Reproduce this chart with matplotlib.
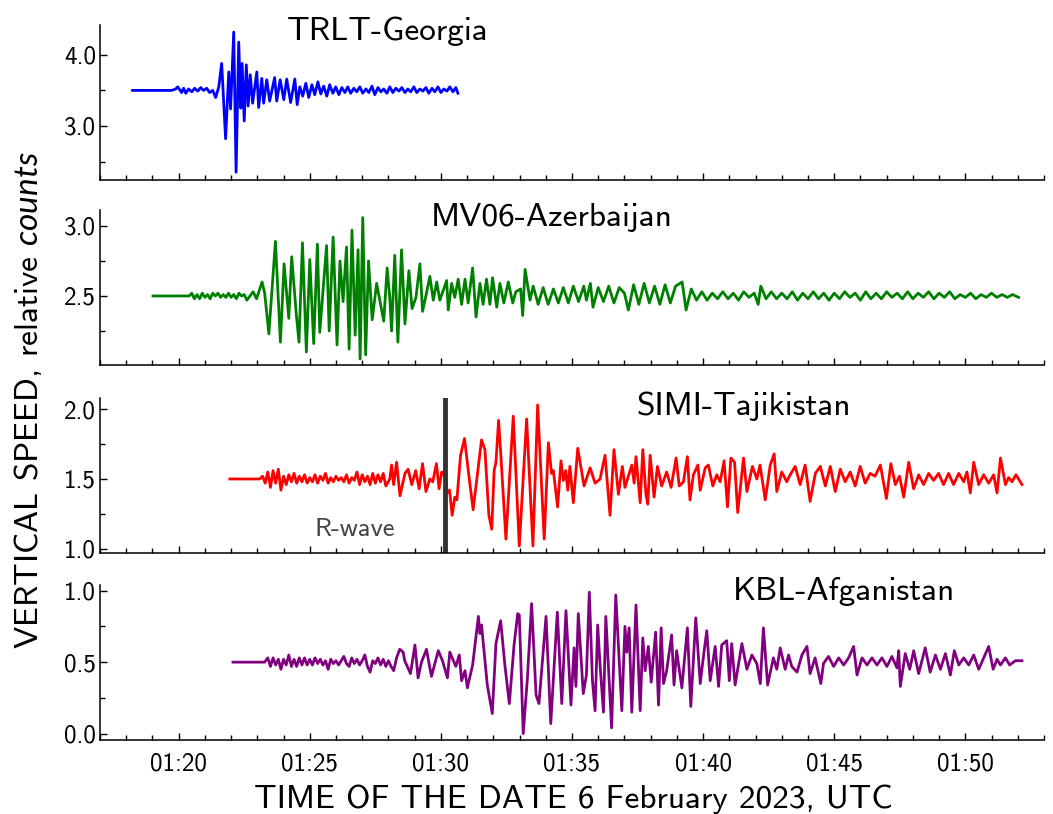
import matplotlib
matplotlib.use("Agg")
import matplotlib.pyplot as plt
from matplotlib.ticker import MultipleLocator, FixedLocator, FixedFormatter, FormatStrFormatter

plt.rcParams['font.family'] = 'cmss10'
plt.rcParams['axes.unicode_minus'] = False
plt.rcParams['mathtext.fontset'] = 'custom'
plt.rcParams['mathtext.rm'] = 'cmss10'
plt.rcParams['mathtext.it'] = 'Lato:italic'

# ---------------- data (time in minutes after 01:00 UTC) ----------------
geo_t = [18.24, 19.73, 19.89, 19.96, 20.04, 20.11, 20.19, 20.27, 20.38, 20.50,
         20.61, 20.73, 20.84, 20.95, 21.07, 21.18, 21.30, 21.41, 21.53, 21.64,
         21.79, 21.91, 21.98, 22.10, 22.19, 22.29, 22.37, 22.42, 22.50, 22.58,
         22.65, 22.73, 22.82, 22.98, 23.05, 23.17, 23.24, 23.36, 23.47, 23.66,
         23.74, 23.87, 24.01, 24.12, 24.27, 24.43, 24.52, 24.62,
         24.73, 24.85, 24.96, 25.08, 25.19, 25.31, 25.42, 25.53, 25.65, 25.76,
         25.88, 25.99, 26.11, 26.22, 26.34, 26.45, 26.56, 26.68, 26.79, 26.91,
         27.02, 27.14, 27.25, 27.37, 27.48, 27.60, 27.71, 27.82, 27.94, 28.05,
         28.17, 28.28, 28.40, 28.51, 28.63, 28.74, 28.85, 28.97, 29.08, 29.20,
         29.31, 29.43, 29.54, 29.66, 29.77, 29.89, 30.00, 30.11, 30.23, 30.34,
         30.46, 30.57, 30.65]
geo_v = [3.50, 3.50, 3.52, 3.55, 3.51, 3.47, 3.53, 3.46, 3.52, 3.48,
         3.53, 3.49, 3.54, 3.50, 3.53, 3.47, 3.50, 3.40, 3.55, 3.88,
         2.82, 3.76, 3.24, 4.32, 2.35, 4.18, 3.25, 3.88, 3.07, 3.86,
         3.28, 3.72, 3.32, 3.76, 3.26, 3.67, 3.32, 3.65, 3.35, 3.68,
         3.35, 3.65, 3.37, 3.66, 3.33, 3.66, 3.30, 3.55,
         3.42, 3.60, 3.40, 3.58, 3.44, 3.62, 3.45, 3.56, 3.42, 3.58,
         3.46, 3.55, 3.44, 3.54, 3.47, 3.55, 3.46, 3.53, 3.48, 3.55,
         3.46, 3.52, 3.47, 3.56, 3.44, 3.54, 3.48, 3.52, 3.46, 3.55,
         3.47, 3.53, 3.49, 3.54, 3.47, 3.52, 3.48, 3.55, 3.47, 3.52,
         3.49, 3.54, 3.46, 3.53, 3.48, 3.55, 3.47, 3.52, 3.49, 3.55,
         3.48, 3.54, 3.46]

aze_t = [19.02, 20.32, 20.4, 20.5, 20.6, 20.7, 20.8, 20.9, 21.0, 21.1,
         21.2, 21.3, 21.4, 21.5, 21.6, 21.7, 21.8, 21.9, 22.0, 22.1,
         22.2, 22.3, 22.4, 22.5, 22.6, 22.84, 22.97, 23.18, 23.28, 23.44,
         23.69, 23.88, 24.02, 24.08, 24.20, 24.31, 24.49, 24.59, 24.72, 24.87,
         25.00, 25.15, 25.29, 25.38, 25.64, 25.74, 25.89, 26.04, 26.15, 26.27,
         26.40, 26.50, 26.61, 26.73, 26.84, 26.92, 27.02, 27.13, 27.24, 27.38,
         27.55, 27.67, 27.82, 27.95, 28.05, 28.12, 28.24, 28.36, 28.50, 28.63,
         28.78, 28.90, 29.05, 29.20, 29.30, 29.45, 29.58, 29.71, 29.84, 29.96,
         30.22, 30.28, 30.41, 30.53, 30.66, 30.79, 30.92, 31.04, 31.21, 31.34,
         31.49, 31.61, 31.74, 31.87, 31.97, 32.13, 32.25, 32.40, 32.57, 32.74,
         32.86, 33.04, 33.12, 33.21, 33.40, 33.52, 33.71, 33.90, 34.09, 34.29,
         34.48, 34.67, 34.86, 35.05, 35.25, 35.45, 35.55, 35.70, 35.80, 36.00,
         36.20, 36.40, 36.60, 36.80, 37.00, 37.15, 37.35, 37.55, 37.75, 37.95,
         38.15, 38.35, 38.55, 38.75, 38.95, 39.20, 39.35, 39.55, 39.75, 39.95,
         40.15, 40.35, 40.55, 40.75, 40.95, 41.15, 41.35, 41.55, 41.75, 41.95,
         42.10, 42.20, 42.40, 42.60, 42.80, 43.00, 43.20, 43.40, 43.60, 43.80,
         44.00, 44.20, 44.40, 44.60, 44.80, 45.00, 45.20, 45.40, 45.60, 45.80,
         46.00, 46.20, 46.40, 46.60, 46.80, 47.00, 47.20, 47.40, 47.60, 47.80,
         48.00, 48.20, 48.40, 48.60, 48.80, 49.00, 49.20, 49.40, 49.60, 49.80,
         50.00, 50.20, 50.40, 50.60, 50.80, 51.00, 51.20, 51.40, 51.60, 51.80,
         52.03]
aze_v = [2.50, 2.50, 2.50, 2.52, 2.48, 2.51, 2.48, 2.52, 2.49, 2.51,
         2.48, 2.52, 2.50, 2.52, 2.49, 2.51, 2.49, 2.52, 2.49, 2.51,
         2.48, 2.52, 2.50, 2.51, 2.47, 2.53, 2.48, 2.60, 2.52, 2.23,
         2.89, 2.17, 2.73, 2.60, 2.34, 2.78, 2.36, 2.17, 2.88, 2.10,
         2.76, 2.16, 2.87, 2.24, 2.86, 2.25, 2.92, 2.15, 2.75, 2.46,
         2.85, 2.12, 2.97, 2.22, 2.83, 2.05, 3.06, 2.08, 2.75, 2.33,
         2.59, 2.47, 2.32, 2.70, 2.49, 2.25, 2.79, 2.17, 2.83, 2.30,
         2.68, 2.41, 2.49, 2.73, 2.39, 2.52, 2.64, 2.47, 2.60, 2.47,
         2.61, 2.40, 2.59, 2.49, 2.62, 2.44, 2.62, 2.45, 2.70, 2.35,
         2.59, 2.44, 2.62, 2.44, 2.63, 2.42, 2.59, 2.45, 2.60, 2.45,
         2.53, 2.55, 2.36, 2.69, 2.47, 2.57, 2.44, 2.56, 2.44, 2.55,
         2.45, 2.56, 2.45, 2.57, 2.46, 2.57, 2.47, 2.59, 2.42, 2.56,
         2.46, 2.57, 2.45, 2.56, 2.52, 2.40, 2.58, 2.44, 2.59, 2.45,
         2.57, 2.44, 2.58, 2.45, 2.57, 2.60, 2.40, 2.55, 2.47, 2.53,
         2.47, 2.52, 2.48, 2.53, 2.48, 2.52, 2.47, 2.53, 2.49, 2.52,
         2.44, 2.57, 2.48, 2.53, 2.48, 2.52, 2.48, 2.53, 2.47, 2.52,
         2.48, 2.53, 2.48, 2.52, 2.47, 2.52, 2.48, 2.53, 2.49, 2.52,
         2.47, 2.53, 2.48, 2.52, 2.48, 2.53, 2.49, 2.52, 2.48, 2.53,
         2.48, 2.52, 2.49, 2.53, 2.48, 2.52, 2.49, 2.53, 2.48, 2.51,
         2.49, 2.52, 2.48, 2.51, 2.49, 2.52, 2.49, 2.51, 2.49, 2.51,
         2.49]

taj_t = [21.95, 23.09, 23.2, 23.3, 23.4, 23.5, 23.6, 23.7, 23.8, 23.9,
         24.0, 24.1, 24.2, 24.3, 24.4, 24.5, 24.6, 24.7, 24.8, 24.9,
         25.0, 25.1, 25.2, 25.3, 25.4, 25.5, 25.6, 25.7, 25.8, 25.9,
         26.0, 26.1, 26.2, 26.3, 26.4, 26.5, 26.6, 26.7, 26.8, 26.9,
         27.0, 27.1, 27.2, 27.3, 27.4, 27.5, 27.6, 27.7, 27.8, 27.9,
         28.05, 28.12, 28.20, 28.31, 28.44, 28.63, 28.75, 28.89, 29.04, 29.17,
         29.30, 29.43, 29.58, 29.69, 29.83, 29.93, 30.03, 30.10, 30.16, 30.24,
         30.33, 30.43, 30.53, 30.61, 30.75, 30.90, 31.07, 31.23, 31.55, 31.68,
         31.83, 31.94, 32.03, 32.10, 32.20, 32.29, 32.48, 32.76, 32.99, 33.27,
         33.51, 33.69, 33.94, 34.10, 34.22, 34.29, 34.45, 34.58, 34.67, 34.76,
         34.84, 34.92, 35.05, 35.22, 35.46, 35.69, 35.88, 36.07, 36.26, 36.45,
         36.60, 36.77, 36.92, 37.02, 37.15, 37.28, 37.37, 37.44, 37.60, 37.70,
         37.82, 37.89, 37.98, 38.13, 38.26, 38.42, 38.61, 38.78, 38.97, 39.09,
         39.25, 39.40, 39.50, 39.63, 39.80, 39.89, 40.08, 40.20, 40.37, 40.52,
         40.65, 40.80, 40.93, 41.06, 41.20, 41.32, 41.54, 41.67, 41.88, 42.05,
         42.17, 42.37, 42.56, 42.71, 42.81, 43.00, 43.19, 43.32, 43.51, 43.70,
         43.89, 44.08, 44.28, 44.47, 44.66, 44.85, 45.04, 45.23, 45.42, 45.61,
         45.80, 45.99, 46.18, 46.37, 46.56, 46.76, 46.99, 47.16, 47.33, 47.49,
         47.65, 47.84, 48.03, 48.22, 48.41, 48.60, 48.79, 48.98, 49.17, 49.36,
         49.55, 49.75, 49.94, 50.06, 50.19, 50.32, 50.51, 50.70, 50.89, 51.08,
         51.21, 51.34, 51.53, 51.65, 51.78, 51.93, 52.16]
taj_v = [1.50, 1.50, 1.52, 1.47, 1.55, 1.44, 1.56, 1.47, 1.57, 1.42,
         1.52, 1.46, 1.53, 1.48, 1.54, 1.47, 1.52, 1.48, 1.53, 1.47,
         1.51, 1.48, 1.53, 1.47, 1.52, 1.49, 1.54, 1.47, 1.51, 1.48,
         1.52, 1.49, 1.51, 1.48, 1.53, 1.47, 1.51, 1.49, 1.55, 1.46,
         1.53, 1.48, 1.52, 1.46, 1.54, 1.47, 1.53, 1.48, 1.54, 1.45,
         1.50, 1.60, 1.46, 1.62, 1.38, 1.54, 1.57, 1.46, 1.56, 1.43,
         1.61, 1.41, 1.50, 1.48, 1.61, 1.43, 1.55, 1.53, 1.58, 1.40,
         1.42, 1.24, 1.37, 1.35, 1.67, 1.79, 1.52, 1.28, 1.78, 1.71,
         1.24, 1.14, 1.56, 1.62, 1.92, 1.66, 1.07, 1.95, 1.02, 1.93,
         1.02, 2.03, 1.07, 1.76, 1.54, 1.56, 1.30, 1.63, 1.49, 1.56,
         1.42, 1.59, 1.33, 1.72, 1.45, 1.58, 1.47, 1.50, 1.67, 1.24,
         1.71, 1.39, 1.59, 1.44, 1.52, 1.60, 1.47, 1.66, 1.33, 1.71,
         1.39, 1.32, 1.67, 1.37, 1.59, 1.45, 1.55, 1.44, 1.65, 1.45,
         1.48, 1.66, 1.35, 1.53, 1.60, 1.42, 1.58, 1.60, 1.45, 1.53,
         1.48, 1.63, 1.30, 1.65, 1.62, 1.26, 1.65, 1.41, 1.59, 1.50,
         1.60, 1.35, 1.60, 1.68, 1.41, 1.55, 1.48, 1.53, 1.59, 1.46,
         1.60, 1.34, 1.54, 1.59, 1.45, 1.59, 1.41, 1.57, 1.48, 1.55,
         1.45, 1.59, 1.47, 1.54, 1.52, 1.60, 1.36, 1.61, 1.46, 1.52,
         1.37, 1.62, 1.43, 1.53, 1.46, 1.54, 1.49, 1.54, 1.46, 1.54,
         1.46, 1.54, 1.48, 1.55, 1.40, 1.62, 1.46, 1.53, 1.47, 1.53,
         1.40, 1.65, 1.46, 1.51, 1.48, 1.53, 1.46]

afg_t = [22.07, 23.28, 23.4, 23.5, 23.6, 23.7, 23.8, 23.9, 24.0, 24.1,
         24.2, 24.3, 24.4, 24.5, 24.6, 24.7, 24.8, 24.9, 25.0, 25.1,
         25.2, 25.3, 25.4, 25.5, 25.6, 25.7, 25.8, 25.9, 26.0, 26.1,
         26.2, 26.3, 26.4, 26.5, 26.6, 26.7, 26.8, 26.9, 27.0, 27.1,
         27.2, 27.3, 27.4, 27.5, 27.6, 27.7, 27.8, 27.9, 28.0, 28.1,
         28.2, 28.31, 28.43, 28.56, 28.62, 28.84, 29.01, 29.13, 29.26, 29.45,
         29.64, 29.90, 30.06, 30.25, 30.34, 30.57, 30.70, 30.79, 30.92, 31.01,
         31.21, 31.43, 31.49, 31.55, 31.77, 31.96, 32.10, 32.28, 32.44, 32.61,
         32.79, 32.93, 32.99, 33.14, 33.30, 33.46, 33.63, 33.74, 34.01, 34.19,
         34.44, 34.61, 34.77, 34.96, 35.08, 35.15, 35.24, 35.43, 35.55, 35.66,
         35.78, 35.88, 35.98, 36.07, 36.20, 36.29, 36.51, 36.67, 36.90, 37.02,
         37.09, 37.18, 37.28, 37.44, 37.60, 37.70, 37.79, 37.91, 38.02, 38.19,
         38.30, 38.40, 38.49, 38.61, 38.80, 38.89, 38.99, 39.19, 39.40, 39.53,
         39.72, 39.89, 40.04, 40.14, 40.27, 40.46, 40.59, 40.71, 40.90, 41.00,
         41.09, 41.22, 41.48, 41.67, 41.86, 42.05, 42.18, 42.30, 42.46, 42.68,
         42.81, 42.94, 43.13, 43.26, 43.38, 43.58, 43.77, 43.96, 44.08, 44.27,
         44.49, 44.59, 44.78, 44.98, 45.17, 45.36, 45.55, 45.74, 45.87, 46.06,
         46.25, 46.44, 46.63, 46.82, 47.01, 47.20, 47.39, 47.46, 47.52, 47.71,
         47.88, 48.03, 48.22, 48.47, 48.66, 48.86, 49.05, 49.24, 49.43, 49.58,
         49.75, 49.94, 50.13, 50.32, 50.51, 50.70, 50.89, 51.06, 51.21, 51.34,
         51.53, 51.69, 51.91, 52.16]
afg_v = [0.50, 0.50, 0.53, 0.47, 0.53, 0.48, 0.52, 0.45, 0.52, 0.48,
         0.55, 0.47, 0.52, 0.47, 0.53, 0.48, 0.53, 0.48, 0.52, 0.48,
         0.53, 0.49, 0.52, 0.48, 0.51, 0.45, 0.52, 0.49, 0.51, 0.48,
         0.51, 0.54, 0.49, 0.47, 0.53, 0.49, 0.52, 0.48, 0.51, 0.55,
         0.47, 0.43, 0.51, 0.49, 0.53, 0.48, 0.52, 0.47, 0.51, 0.47,
         0.44, 0.53, 0.59, 0.57, 0.51, 0.42, 0.62, 0.39, 0.50, 0.59,
         0.40, 0.58, 0.51, 0.39, 0.57, 0.47, 0.55, 0.37, 0.44, 0.32,
         0.48, 0.82, 0.70, 0.76, 0.34, 0.14, 0.63, 0.79, 0.48, 0.21,
         0.62, 0.84, 0.83, 0.00, 0.39, 0.91, 0.27, 0.21, 0.82, 0.07,
         0.85, 0.21, 0.86, 0.20, 0.60, 0.33, 0.84, 0.28, 0.41, 0.99,
         0.37, 0.16, 0.76, 0.48, 0.15, 0.82, 0.04, 0.97, 0.16, 0.75,
         0.57, 0.74, 0.15, 0.90, 0.16, 0.67, 0.44, 0.61, 0.36, 0.71,
         0.20, 0.74, 0.35, 0.44, 0.69, 0.34, 0.58, 0.32, 0.74, 0.19,
         0.81, 0.35, 0.58, 0.72, 0.37, 0.61, 0.33, 0.62, 0.65, 0.37,
         0.63, 0.34, 0.63, 0.45, 0.55, 0.49, 0.35, 0.74, 0.34, 0.53,
         0.45, 0.60, 0.45, 0.55, 0.47, 0.43, 0.55, 0.61, 0.42, 0.53,
         0.35, 0.49, 0.54, 0.47, 0.53, 0.48, 0.53, 0.61, 0.41, 0.53,
         0.48, 0.53, 0.48, 0.53, 0.47, 0.54, 0.46, 0.58, 0.33, 0.56,
         0.45, 0.58, 0.42, 0.60, 0.43, 0.55, 0.45, 0.56, 0.41, 0.58,
         0.48, 0.53, 0.48, 0.55, 0.45, 0.53, 0.61, 0.45, 0.52, 0.48,
         0.53, 0.48, 0.51, 0.51]

station_names = ["TRLT-Georgia", "MV06-Azerbaijan", "SIMI-Tajikistan", "KBL-Afganistan"]
x_tick_pos = [20, 25, 30, 35, 40, 45, 50]
x_tick_lab = ["01:20", "01:25", "01:30", "01:35", "01:40", "01:45", "01:50"]
r_wave_time = 30.15
r_wave_label = "R-wave"

# ---------------- drawing ----------------
series = [(geo_t, geo_v), (aze_t, aze_v), (taj_t, taj_v), (afg_t, afg_v)]
colors = ["blue", "green", "red", "purple"]
ylims = [(2.24, 4.42), (2.007, 3.114), (0.97, 2.08), (-0.045, 1.04)]
majors = [1.0, 0.5, 0.5, 0.5]
minors = [0.5, 0.25, 0.25, 0.25]
bottoms_px = [180, 365, 553, 740]
name_pos = [(0.305, 0.905), (0.478, 0.897), (0.682, 0.890), (0.788, 0.903)]

W, H = 1053, 814
fig = plt.figure(figsize=(W / 100, H / 100), dpi=100)
left, right = 100 / W, 1044 / W
ax_h = 155 / H

axes = []
for i, (t, v) in enumerate(series):
    ax = fig.add_axes([left, 1 - bottoms_px[i] / H, right - left, ax_h])
    axes.append(ax)
    ax.plot(t, v, color=colors[i], lw=2.0, solid_joinstyle='round')
    ax.set_xlim(17, 53)
    ax.set_ylim(*ylims[i])
    for s in ("top", "right"):
        ax.spines[s].set_visible(False)
    for s in ("left", "bottom"):
        ax.spines[s].set_linewidth(1.1)
    ax.xaxis.set_major_locator(FixedLocator(x_tick_pos))
    ax.xaxis.set_minor_locator(MultipleLocator(1))
    ax.yaxis.set_major_locator(MultipleLocator(majors[i]))
    ax.yaxis.set_minor_locator(MultipleLocator(minors[i]))
    ax.yaxis.set_major_formatter(FormatStrFormatter('%.1f'))
    ax.tick_params(which='both', direction='in', top=False, right=False, width=1.0)
    ax.tick_params(which='major', length=5, labelsize=18)
    ax.tick_params(which='minor', length=3.5)
    ax.tick_params(axis='y', which='major', pad=3)
    if i < 3:
        ax.tick_params(axis='x', labelbottom=False)
    else:
        ax.xaxis.set_major_formatter(FixedFormatter(x_tick_lab))
        ax.tick_params(axis='x', which='major', pad=9)
    ax.text(name_pos[i][0], name_pos[i][1], station_names[i], transform=ax.transAxes,
            ha='center', va='baseline', fontsize=24)

ax3 = axes[2]
ax3.axvline(r_wave_time, color='#333333', lw=3.5)
ax3.text(26.72, 1.14, r_wave_label, color='#444444', fontsize=19, ha='center', va='center')

fig.text(573 / W, 1 - 808 / H, "TIME OF THE DATE 6 February 2023, UTC",
         ha='center', va='baseline', fontsize=24)
fig.text(28 / W, 1 - 400 / H, "VERTICAL SPEED, relative $counts$",
         ha='center', va='center', rotation=90, fontsize=24)

fig.savefig("out.png", dpi=100)
